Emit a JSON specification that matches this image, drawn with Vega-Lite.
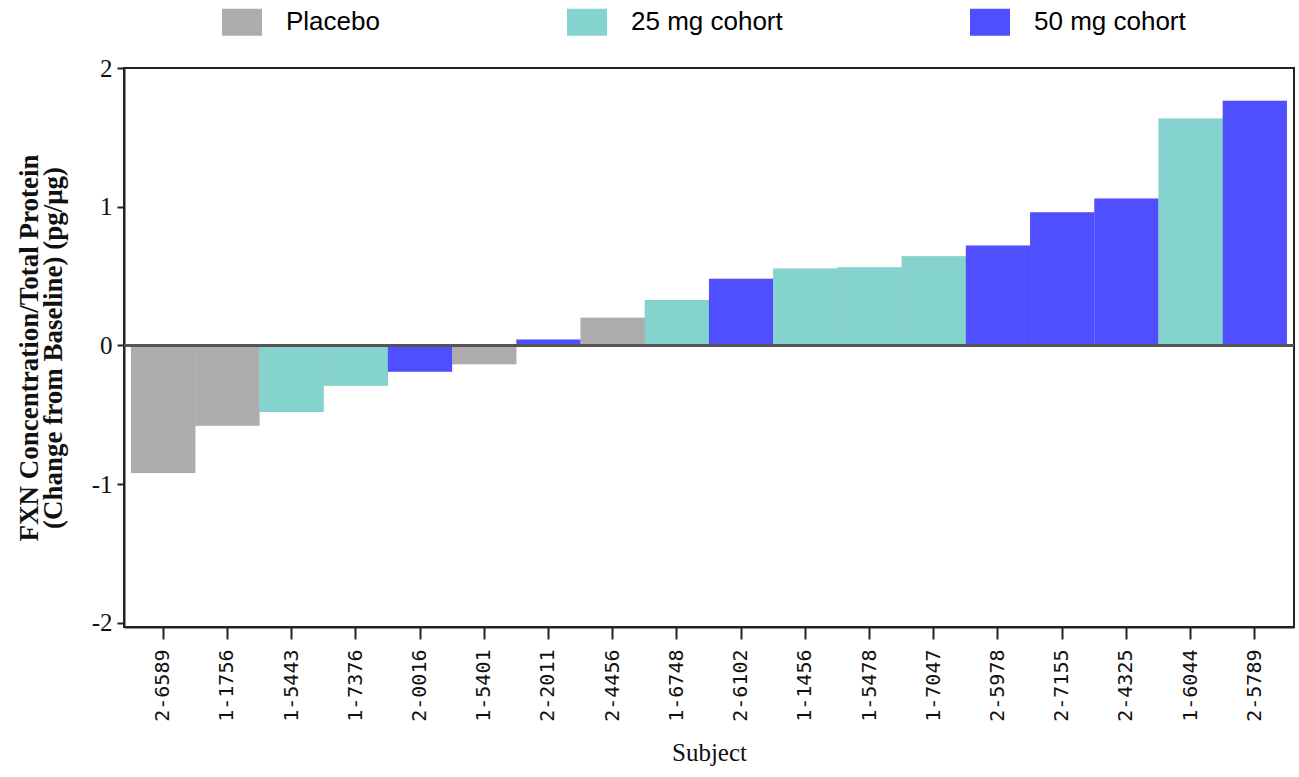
{
  "$schema": "https://vega.github.io/schema/vega-lite/v6.json",
  "autosize": "none",
  "width": 1170,
  "height": 559,
  "padding": {"left": 124, "top": 68, "right": 5, "bottom": 150},
  "background": "white",
  "config": {
    "view": {"stroke": "#222222", "strokeWidth": 2},
    "axis": {"grid": false, "domainColor": "#222222", "tickColor": "#222222", "domainWidth": 2, "tickWidth": 2, "labelColor": "#111111", "titleColor": "#111111"}
  },
  "data": {
    "values": [
      {"subject": "2-6589", "cohort": "Placebo", "change": -0.92},
      {"subject": "1-1756", "cohort": "Placebo", "change": -0.58},
      {"subject": "1-5443", "cohort": "25 mg cohort", "change": -0.48},
      {"subject": "1-7376", "cohort": "25 mg cohort", "change": -0.29},
      {"subject": "2-0016", "cohort": "50 mg cohort", "change": -0.19},
      {"subject": "1-5401", "cohort": "Placebo", "change": -0.135},
      {"subject": "2-2011", "cohort": "50 mg cohort", "change": 0.043},
      {"subject": "2-4456", "cohort": "Placebo", "change": 0.20},
      {"subject": "1-6748", "cohort": "25 mg cohort", "change": 0.327},
      {"subject": "2-6102", "cohort": "50 mg cohort", "change": 0.48},
      {"subject": "1-1456", "cohort": "25 mg cohort", "change": 0.554},
      {"subject": "1-5478", "cohort": "25 mg cohort", "change": 0.564},
      {"subject": "1-7047", "cohort": "25 mg cohort", "change": 0.642},
      {"subject": "2-5978", "cohort": "50 mg cohort", "change": 0.72},
      {"subject": "2-7155", "cohort": "50 mg cohort", "change": 0.96},
      {"subject": "2-4325", "cohort": "50 mg cohort", "change": 1.06},
      {"subject": "1-6044", "cohort": "25 mg cohort", "change": 1.636},
      {"subject": "2-5789", "cohort": "50 mg cohort", "change": 1.763}
    ]
  },
  "layer": [
    {
      "mark": {"type": "bar", "stroke": "#000000", "strokeWidth": 0.6, "strokeOpacity": 0.08},
      "encoding": {
        "x": {
          "field": "subject", "type": "nominal", "sort": null,
          "scale": {"paddingInner": 0, "paddingOuter": 0.11},
          "axis": {
            "title": "Subject", "labelAngle": 270, "labelAlign": "right", "labelBaseline": "middle",
            "labelFont": "DejaVu Sans Mono", "labelFontSize": 20, "tickSize": 12, "labelPadding": 10,
            "titleFont": "Liberation Serif", "titleFontSize": 25, "titleFontWeight": "normal", "titlePadding": 19
          }
        },
        "y": {
          "field": "change", "type": "quantitative",
          "scale": {"domain": [-2.03, 2], "nice": false, "zero": false},
          "axis": {
            "title": ["FXN Concentration/Total Protein", "(Change from Baseline) (pg/μg)"],
            "values": [-2, -1, 0, 1, 2], "labelExpr": "'' + datum.value",
            "labelFont": "Liberation Serif", "labelFontSize": 25, "tickSize": 7, "labelPadding": 5,
            "titleFont": "Liberation Serif", "titleFontSize": 27, "titleFontWeight": "bold", "titlePadding": 24, "titleLineHeight": 24
          }
        },
        "color": {
          "field": "cohort", "type": "nominal",
          "scale": {"domain": ["Placebo", "25 mg cohort", "50 mg cohort"], "range": ["#ADADAD", "#84D3CF", "#4F4FFF"]},
          "legend": {
            "title": null, "orient": "none", "direction": "horizontal", "legendX": 98, "legendY": -66,
            "symbolType": "M-1,-0.675H1V0.675H-1Z", "symbolSize": 1600, "symbolStrokeWidth": 0, "symbolOpacity": 1,
            "labelFont": "Liberation Sans", "labelFontSize": 26, "labelColor": "#000000", "labelOffset": 24,
            "columnPadding": 187, "labelLimit": 400
          }
        }
      }
    },
    {
      "mark": {"type": "rule", "color": "#555555", "strokeWidth": 2},
      "encoding": {"y": {"datum": 0}}
    }
  ]
}
